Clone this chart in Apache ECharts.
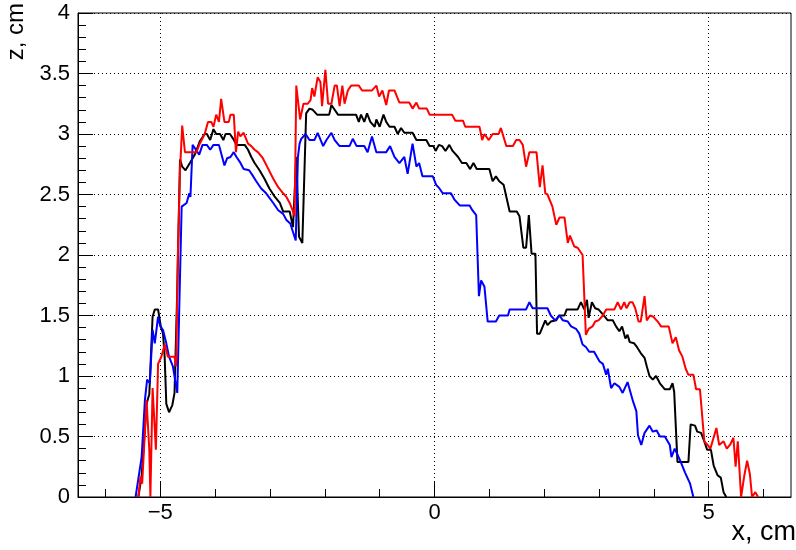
<!DOCTYPE html>
<html>
<head>
<meta charset="utf-8">
<script src="https://cdn.jsdelivr.net/npm/echarts@6/dist/echarts.min.js"></script>
<style>
  html, body { margin: 0; padding: 0; background: #fff; }
  #chart { width: 796px; height: 550px; }
</style>
</head>
<body>
<div id="chart"></div>
<script>
// Profiles z(x) of three scans, in cm
const blackProfile = [[-5.40,0],[-5.34,0.17],[-5.25,0.77],[-5.20,0.85],[-5.14,1.49],[-5.10,1.55],[-5.04,1.55],[-4.99,1.41],[-4.95,1.35],[-4.92,1.16],[-4.89,0.77],[-4.84,0.70],[-4.78,0.76],[-4.74,0.86],[-4.69,1.71],[-4.64,2.79],[-4.60,2.73],[-4.54,2.70],[-4.46,2.76],[-4.37,2.83],[-4.28,2.94],[-4.19,3.00],[-4.15,3.00],[-4.09,2.95],[-4.03,3.04],[-3.98,3.00],[-3.91,3.00],[-3.85,2.95],[-3.81,3.00],[-3.73,3.00],[-3.67,2.96],[-3.61,2.91],[-3.46,2.91],[-3.40,2.87],[-3.34,2.81],[-3.28,2.76],[-3.19,2.70],[-3.10,2.63],[-3.01,2.55],[-2.91,2.48],[-2.82,2.43],[-2.76,2.36],[-2.64,2.36],[-2.58,2.23],[-2.52,2.81],[-2.47,2.15],[-2.41,2.10],[-2.34,3.17],[-2.28,3.21],[-2.22,3.20],[-2.14,3.16],[-1.92,3.16],[-1.88,3.24],[-1.82,3.20],[-1.76,3.16],[-1.43,3.16],[-1.38,3.10],[-1.34,3.16],[-1.28,3.10],[-1.23,3.17],[-1.17,3.10],[-1.09,3.06],[-1.06,3.12],[-1.00,3.06],[-0.93,3.16],[-0.88,3.10],[-0.82,3.06],[-0.73,3.06],[-0.67,3.00],[-0.61,3.05],[-0.55,3.01],[-0.40,3.01],[-0.33,2.95],[-0.15,2.95],[-0.09,2.90],[-0.02,2.90],[0.02,2.86],[0.08,2.91],[0.14,2.90],[0.20,2.86],[0.27,2.91],[0.33,2.86],[0.43,2.81],[0.50,2.76],[0.58,2.76],[0.65,2.71],[0.71,2.76],[0.77,2.71],[1.00,2.71],[1.06,2.61],[1.12,2.65],[1.18,2.61],[1.26,2.58],[1.37,2.36],[1.50,2.36],[1.55,2.32],[1.62,2.06],[1.67,2.06],[1.72,2.33],[1.77,2.01],[1.84,2.01],[1.87,1.35],[1.92,1.35],[2.02,1.46],[2.06,1.42],[2.12,1.45],[2.22,1.46],[2.27,1.50],[2.37,1.50],[2.41,1.55],[2.61,1.55],[2.67,1.61],[2.73,1.55],[2.78,1.63],[2.81,1.48],[2.87,1.61],[2.93,1.56],[2.99,1.55],[3.05,1.52],[3.16,1.46],[3.25,1.46],[3.31,1.41],[3.37,1.37],[3.42,1.41],[3.48,1.31],[3.52,1.34],[3.56,1.28],[3.64,1.27],[3.69,1.24],[3.76,1.19],[3.83,1.15],[3.87,1.08],[3.92,1.00],[3.98,0.97],[4.04,1.00],[4.11,0.94],[4.20,0.89],[4.29,0.89],[4.34,0.94],[4.37,0.87],[4.43,0.29],[4.63,0.29],[4.67,0.60],[4.75,0.59],[4.79,0.54],[4.86,0.53],[4.92,0.46],[4.97,0.39],[5.04,0.39],[5.09,0.26],[5.16,0.18],[5.22,0.16],[5.27,0.04],[5.32,0]];

const blueProfile = [[-5.45,0],[-5.34,0.33],[-5.28,0.80],[-5.24,0.97],[-5.19,0.94],[-5.14,1.38],[-5.10,1.27],[-5.04,1.49],[-5.00,1.41],[-4.95,1.38],[-4.89,1.27],[-4.84,1.16],[-4.77,1.08],[-4.69,0.86],[-4.61,2.40],[-4.52,2.43],[-4.47,2.51],[-4.45,2.48],[-4.41,2.91],[-4.35,2.87],[-4.29,2.83],[-4.23,2.91],[-4.15,2.91],[-4.09,2.87],[-4.03,2.91],[-3.93,2.91],[-3.83,2.74],[-3.78,2.80],[-3.72,2.81],[-3.66,2.85],[-3.61,2.81],[-3.55,2.77],[-3.48,2.71],[-3.38,2.70],[-3.32,2.66],[-3.25,2.61],[-3.16,2.55],[-3.07,2.51],[-2.94,2.43],[-2.85,2.37],[-2.76,2.34],[-2.70,2.29],[-2.63,2.26],[-2.53,2.12],[-2.49,2.81],[-2.46,2.92],[-2.43,2.96],[-2.35,3.00],[-2.28,2.95],[-2.19,2.95],[-2.13,3.01],[-2.03,2.90],[-1.97,2.95],[-1.88,3.01],[-1.82,2.95],[-1.73,2.90],[-1.55,2.90],[-1.49,2.96],[-1.42,2.90],[-1.28,2.90],[-1.22,2.85],[-1.14,2.98],[-1.06,2.85],[-0.88,2.85],[-0.81,2.90],[-0.73,2.81],[-0.64,2.76],[-0.55,2.81],[-0.49,2.67],[-0.40,2.92],[-0.33,2.73],[-0.28,2.76],[-0.22,2.65],[-0.03,2.65],[0.03,2.58],[0.09,2.55],[0.15,2.51],[0.30,2.51],[0.36,2.46],[0.46,2.41],[0.64,2.41],[0.69,2.37],[0.76,2.33],[0.81,1.66],[0.85,1.79],[0.91,1.74],[0.97,1.45],[1.12,1.45],[1.18,1.50],[1.34,1.50],[1.37,1.55],[1.67,1.55],[1.73,1.61],[1.79,1.56],[2.06,1.56],[2.12,1.50],[2.20,1.46],[2.28,1.50],[2.34,1.46],[2.43,1.45],[2.49,1.41],[2.58,1.39],[2.64,1.35],[2.70,1.26],[2.76,1.24],[2.82,1.20],[2.91,1.20],[3.01,1.12],[3.07,1.10],[3.13,1.01],[3.16,1.06],[3.22,0.90],[3.28,0.94],[3.37,0.91],[3.43,0.86],[3.52,0.95],[3.62,0.79],[3.68,0.71],[3.71,0.51],[3.77,0.43],[3.83,0.53],[3.92,0.59],[3.98,0.54],[4.05,0.55],[4.11,0.50],[4.20,0.50],[4.29,0.43],[4.32,0.33],[4.38,0.40],[4.48,0.30],[4.57,0.20],[4.66,0.11],[4.72,0]];

const redProfile = [[-5.40,0],[-5.36,0.17],[-5.33,0.11],[-5.25,0.80],[-5.20,0.39],[-5.18,0],[-5.14,0.90],[-5.08,0.39],[-5.04,1.10],[-4.98,1.16],[-4.92,1.26],[-4.86,1.16],[-4.74,1.16],[-4.71,1.08],[-4.68,1.99],[-4.64,2.70],[-4.60,3.07],[-4.55,2.85],[-4.34,2.85],[-4.28,2.92],[-4.19,3.00],[-4.13,3.10],[-4.07,3.10],[-4.03,3.06],[-3.98,3.16],[-3.93,3.10],[-3.89,3.29],[-3.83,3.10],[-3.75,3.10],[-3.72,3.16],[-3.66,3.16],[-3.62,2.85],[-3.58,3.02],[-3.54,2.98],[-3.48,3.01],[-3.40,2.92],[-3.34,2.90],[-3.28,2.87],[-3.22,2.85],[-3.13,2.80],[-3.04,2.72],[-2.94,2.63],[-2.85,2.56],[-2.76,2.51],[-2.70,2.48],[-2.64,2.43],[-2.58,2.36],[-2.55,2.32],[-2.52,3.40],[-2.45,3.12],[-2.39,3.25],[-2.31,3.25],[-2.26,3.28],[-2.23,3.38],[-2.19,3.31],[-2.13,3.47],[-2.08,3.43],[-2.05,3.23],[-1.99,3.53],[-1.94,3.25],[-1.88,3.25],[-1.82,3.40],[-1.78,3.40],[-1.73,3.23],[-1.68,3.40],[-1.64,3.25],[-1.58,3.36],[-1.52,3.40],[-1.38,3.40],[-1.32,3.36],[-1.14,3.36],[-1.06,3.40],[-1.01,3.31],[-0.95,3.36],[-0.88,3.24],[-0.83,3.36],[-0.73,3.36],[-0.64,3.26],[-0.46,3.26],[-0.40,3.21],[-0.33,3.26],[-0.28,3.21],[-0.14,3.21],[-0.09,3.16],[0.32,3.16],[0.38,3.11],[0.52,3.11],[0.56,3.06],[0.82,3.06],[0.87,2.95],[0.91,3.00],[0.99,2.95],[1.06,3.00],[1.17,3.00],[1.21,3.05],[1.31,2.90],[1.43,2.90],[1.49,2.95],[1.55,2.95],[1.61,2.91],[1.67,2.73],[1.73,2.85],[1.86,2.85],[1.92,2.56],[1.97,2.74],[2.02,2.51],[2.06,2.50],[2.15,2.40],[2.22,2.25],[2.28,2.31],[2.37,2.31],[2.43,2.10],[2.47,2.16],[2.55,2.07],[2.61,2.06],[2.70,2.00],[2.76,1.34],[2.81,1.39],[2.88,1.41],[2.93,1.45],[2.99,1.46],[3.07,1.50],[3.13,1.55],[3.28,1.55],[3.34,1.61],[3.40,1.55],[3.46,1.61],[3.50,1.56],[3.56,1.61],[3.61,1.61],[3.66,1.56],[3.72,1.45],[3.76,1.45],[3.83,1.66],[3.87,1.46],[3.93,1.50],[3.99,1.49],[4.07,1.45],[4.13,1.41],[4.27,1.41],[4.34,1.27],[4.40,1.32],[4.46,1.21],[4.52,1.16],[4.58,1.06],[4.63,1.01],[4.72,1.01],[4.77,0.89],[4.84,0.89],[4.92,0.46],[4.98,0.43],[5.03,0.40],[5.14,0.57],[5.19,0.43],[5.27,0.46],[5.33,0.40],[5.40,0.44],[5.45,0.49],[5.49,0.25],[5.53,0.46],[5.59,0],[5.65,0.18],[5.70,0.30],[5.75,0.19],[5.79,0],[5.85,0.04],[5.90,0]];

// Axis ranges and ticks
const xRange = [-6.5, 6.5];
const xMajorTicks = [-5, 0, 5];
const xMinorTicks = [-6, -5, -4, -3, -2, -1, 0, 1, 2, 3, 4, 5, 6];
const zRange = [0, 4];
const zStep = 0.5;

const FONT = 'Liberation Sans, Arial, Helvetica, sans-serif';
const fmtNum = v => (v < 0 ? '\u2212' + Math.abs(v) : String(v));
const dotted = { color: '#000', width: 1, type: [1, 3] };

const chart = echarts.init(document.getElementById('chart'), null, { renderer: 'canvas' });

chart.setOption({
  animation: false,
  backgroundColor: '#fff',
  grid: {
    left: 78, right: 5, top: 13, bottom: 53,
    show: true, borderColor: '#000', borderWidth: 1, backgroundColor: 'transparent'
  },
  xAxis: [
    {
      type: 'value', min: xRange[0], max: xRange[1], position: 'bottom',
      axisLine: { show: true, onZero: false, lineStyle: { color: '#000', width: 1 } },
      axisTick: { show: true, inside: true, length: 8, customValues: xMinorTicks, lineStyle: { color: '#000' } },
      axisLabel: {
        show: true, customValues: xMajorTicks, margin: 5,
        color: '#000', fontFamily: FONT, fontSize: 22, formatter: fmtNum
      },
      splitLine: { show: false }
    },
    {
      type: 'value', min: xRange[0], max: xRange[1], position: 'bottom',
      axisLine: { show: false },
      axisTick: { show: true, inside: true, length: 15, customValues: xMajorTicks, lineStyle: { color: '#000' } },
      axisLabel: { show: false },
      splitLine: { show: true, lineStyle: dotted }
    }
  ],
  yAxis: {
    type: 'value', min: zRange[0], max: zRange[1], interval: zStep,
    axisLine: { show: true, onZero: false, lineStyle: { color: '#000', width: 1 } },
    axisTick: { show: true, inside: true, length: 15, lineStyle: { color: '#000' } },
    minorTick: { show: true, splitNumber: 5, length: 8, lineStyle: { color: '#000' } },
    axisLabel: { color: '#000', fontFamily: FONT, fontSize: 22, margin: 8, formatter: fmtNum },
    splitLine: { show: true, lineStyle: dotted }
  },
  graphic: [
    {
      type: 'text', x: 796, y: 519,
      style: { text: 'x, cm', font: '27px ' + FONT, fill: '#000', align: 'right', verticalAlign: 'top' }
    },
    {
      type: 'text', x: 4, y: 3, rotation: Math.PI / 2,
      style: { text: 'z, cm', font: '24px ' + FONT, fill: '#000', align: 'right', verticalAlign: 'top' }
    }
  ],
  series: [
    { type: 'line', name: 'black', data: blackProfile, showSymbol: false, symbol: 'none',
      lineStyle: { color: '#000000', width: 2 }, z: 3 },
    { type: 'line', name: 'blue', data: blueProfile, showSymbol: false, symbol: 'none',
      lineStyle: { color: '#0000ff', width: 2 }, z: 4 },
    { type: 'line', name: 'red', data: redProfile, showSymbol: false, symbol: 'none',
      lineStyle: { color: '#ff0000', width: 2 }, z: 5 }
  ]
});
</script>
</body>
</html>
